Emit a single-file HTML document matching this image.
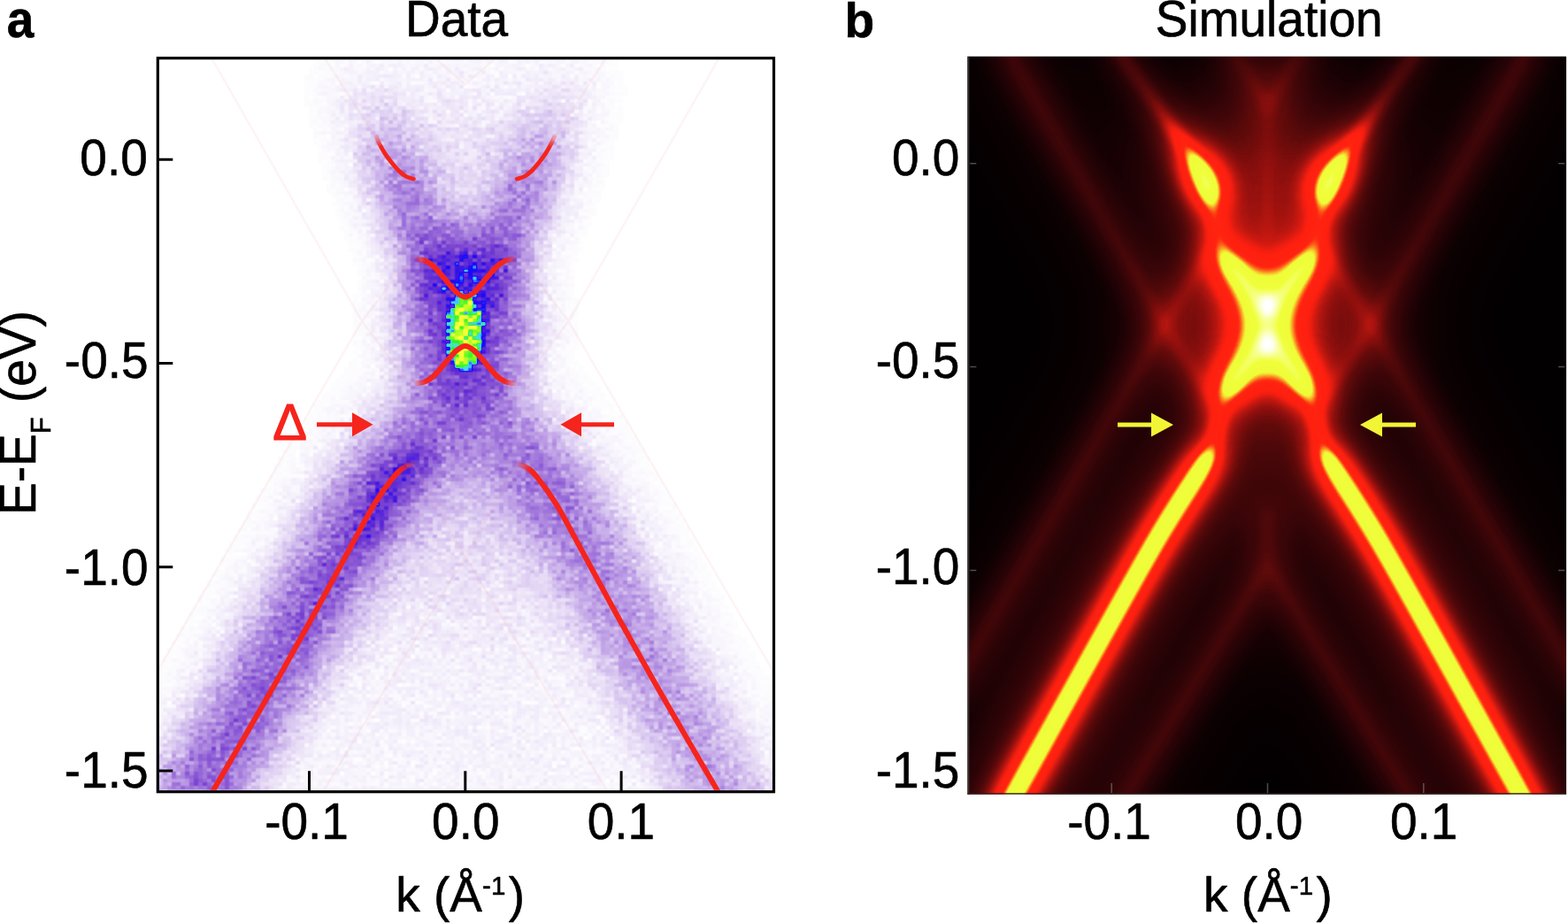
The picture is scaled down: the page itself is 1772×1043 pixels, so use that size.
<!DOCTYPE html>
<html lang="en">
<head>
<meta charset="utf-8">
<title>Data and Simulation</title>
<style>
html,body{margin:0;padding:0;background:#fff;width:1772px;height:1043px;overflow:hidden}
svg{display:block;position:absolute;left:0;top:0}
text{font-family:"Liberation Sans", sans-serif;fill:#000}
</style>
</head>
<body>
<svg width="1772" height="1043" viewBox="0 0 1772 1043">
<defs>
<clipPath id="clipA"><rect x="179.5" y="67.2" width="693.5" height="825.6"/></clipPath>
<filter id="ab5" filterUnits="userSpaceOnUse" x="0" y="-100" width="1000" height="1200" color-interpolation-filters="sRGB"><feGaussianBlur stdDeviation="30"/></filter>
<filter id="ab0" filterUnits="userSpaceOnUse" x="0" y="-100" width="1000" height="1200" color-interpolation-filters="sRGB"><feGaussianBlur stdDeviation="5"/></filter>
<filter id="ab1" filterUnits="userSpaceOnUse" x="0" y="-100" width="1000" height="1200" color-interpolation-filters="sRGB"><feGaussianBlur stdDeviation="7"/></filter>
<filter id="ab2" filterUnits="userSpaceOnUse" x="0" y="-100" width="1000" height="1200" color-interpolation-filters="sRGB"><feGaussianBlur stdDeviation="14"/></filter>
<filter id="ab3" filterUnits="userSpaceOnUse" x="0" y="-100" width="1000" height="1200" color-interpolation-filters="sRGB"><feGaussianBlur stdDeviation="24"/></filter>
<filter id="ab4" filterUnits="userSpaceOnUse" x="0" y="-100" width="1000" height="1200" color-interpolation-filters="sRGB"><feGaussianBlur stdDeviation="40"/></filter>
<filter id="acm" filterUnits="userSpaceOnUse" x="175" y="64" width="705" height="832" color-interpolation-filters="sRGB">
<feTurbulence type="fractalNoise" baseFrequency="0.9" numOctaves="2" seed="7" result="t"/>
<feColorMatrix in="t" type="matrix" values="1.6 0 0 0 -0.3  1.6 0 0 0 -0.3  1.6 0 0 0 -0.3  0 0 0 0 1" result="n"/>
<feComponentTransfer in="SourceGraphic" result="sq"><feFuncR type="gamma" exponent="0.5"/><feFuncG type="gamma" exponent="0.5"/><feFuncB type="gamma" exponent="0.5"/></feComponentTransfer>
<feComposite in="sq" in2="n" operator="arithmetic" k1="0.46" k2="0" k3="0" k4="0" result="nb"/>
<feComposite in="SourceGraphic" in2="sq" operator="arithmetic" k1="0" k2="1" k3="-0.230" k4="0" result="nc"/>
<feComposite in="nb" in2="nc" operator="arithmetic" k1="0" k2="1" k3="1" k4="0" result="sn"/>
<feFlood x="176" y="65" width="1" height="1" flood-color="#000" result="dot"/>
<feComposite in="dot" in2="dot" operator="over" x="175" y="64" width="5" height="4" result="cell"/>
<feTile in="cell" result="grid"/>
<feComposite in="sn" in2="grid" operator="in" result="samp"/>
<feMorphology in="samp" operator="dilate" radius="2 1" result="d1"/>
<feOffset in="d1" dx="0" dy="1" result="d2"/>
<feBlend in="d1" in2="d2" mode="lighten" result="pix"/>
<feConvolveMatrix in="pix" order="3" kernelMatrix="1 2 1 2 4 2 1 2 1" divisor="16" edgeMode="duplicate" preserveAlpha="true" result="soft"/>
<feComponentTransfer in="soft">
<feFuncR type="table" tableValues="1.000 0.986 0.973 0.954 0.936 0.918 0.897 0.876 0.856 0.835 0.814 0.792 0.771 0.749 0.725 0.700 0.675 0.651 0.627 0.604 0.580 0.557 0.535 0.514 0.492 0.471 0.441 0.412 0.383 0.344 0.294 0.244 0.191 0.135 0.078 0.136 0.204 0.282 0.261 0.230 0.188 0.335 0.481 0.627 0.753 0.878 0.948 0.961 0.974 0.987 1.000"/>
<feFuncG type="table" tableValues="1.000 0.980 0.961 0.933 0.906 0.878 0.849 0.820 0.790 0.761 0.727 0.694 0.661 0.627 0.594 0.561 0.527 0.494 0.462 0.429 0.397 0.365 0.338 0.312 0.285 0.259 0.234 0.210 0.185 0.157 0.125 0.094 0.069 0.050 0.031 0.261 0.512 0.784 0.889 0.941 0.941 0.961 0.980 1.000 1.000 1.000 1.000 1.000 1.000 1.000 1.000"/>
<feFuncB type="table" tableValues="1.000 0.996 0.992 0.984 0.976 0.969 0.961 0.953 0.945 0.937 0.928 0.920 0.911 0.902 0.893 0.884 0.875 0.867 0.860 0.853 0.846 0.839 0.835 0.831 0.827 0.824 0.828 0.832 0.837 0.851 0.875 0.898 0.925 0.957 0.988 0.996 1.000 1.000 0.835 0.565 0.188 0.167 0.146 0.125 0.151 0.176 0.195 0.209 0.223 0.237 0.251"/>
<feFuncA type="linear" slope="0" intercept="1"/>
</feComponentTransfer>
</filter>
<filter id="bb0" filterUnits="userSpaceOnUse" x="900" y="-120" width="1060" height="1220" color-interpolation-filters="sRGB"><feGaussianBlur stdDeviation="6"/></filter>
<linearGradient id="bg0" gradientUnits="userSpaceOnUse" x1="0" y1="40" x2="0" y2="950"><stop offset="0.0000" stop-color="#fff" stop-opacity="0.084"/><stop offset="0.0659" stop-color="#fff" stop-opacity="0.095"/><stop offset="0.1044" stop-color="#fff" stop-opacity="0.140"/><stop offset="0.1231" stop-color="#fff" stop-opacity="0.213"/><stop offset="0.1429" stop-color="#fff" stop-opacity="0.291"/><stop offset="0.1604" stop-color="#fff" stop-opacity="0.549"/><stop offset="0.1791" stop-color="#fff" stop-opacity="0.728"/><stop offset="0.1912" stop-color="#fff" stop-opacity="0.739"/><stop offset="0.2011" stop-color="#fff" stop-opacity="0.515"/><stop offset="0.2110" stop-color="#fff" stop-opacity="0.258"/><stop offset="0.2440" stop-color="#fff" stop-opacity="0.213"/><stop offset="0.2637" stop-color="#fff" stop-opacity="0.202"/><stop offset="0.2780" stop-color="#fff" stop-opacity="0.420"/><stop offset="0.2890" stop-color="#fff" stop-opacity="0.672"/><stop offset="0.3077" stop-color="#fff" stop-opacity="0.616"/><stop offset="0.3264" stop-color="#fff" stop-opacity="0.476"/><stop offset="0.3593" stop-color="#fff" stop-opacity="0.392"/><stop offset="0.3923" stop-color="#fff" stop-opacity="0.476"/><stop offset="0.4110" stop-color="#fff" stop-opacity="0.616"/><stop offset="0.4297" stop-color="#fff" stop-opacity="0.672"/><stop offset="0.4407" stop-color="#fff" stop-opacity="0.420"/><stop offset="0.4549" stop-color="#fff" stop-opacity="0.202"/><stop offset="0.4747" stop-color="#fff" stop-opacity="0.202"/><stop offset="0.5011" stop-color="#fff" stop-opacity="0.213"/><stop offset="0.5143" stop-color="#fff" stop-opacity="0.308"/><stop offset="0.5253" stop-color="#fff" stop-opacity="0.560"/><stop offset="0.5385" stop-color="#fff" stop-opacity="0.560"/><stop offset="1.0000" stop-color="#fff" stop-opacity="0.560"/></linearGradient>
<filter id="bb1" filterUnits="userSpaceOnUse" x="900" y="-120" width="1060" height="1220" color-interpolation-filters="sRGB"><feGaussianBlur stdDeviation="16"/></filter>
<linearGradient id="bg1" gradientUnits="userSpaceOnUse" x1="0" y1="40" x2="0" y2="950"><stop offset="0.0000" stop-color="#fff" stop-opacity="0.088"/><stop offset="0.0659" stop-color="#fff" stop-opacity="0.100"/><stop offset="0.1044" stop-color="#fff" stop-opacity="0.147"/><stop offset="0.1231" stop-color="#fff" stop-opacity="0.224"/><stop offset="0.1429" stop-color="#fff" stop-opacity="0.307"/><stop offset="0.1604" stop-color="#fff" stop-opacity="0.578"/><stop offset="0.1791" stop-color="#fff" stop-opacity="0.767"/><stop offset="0.1912" stop-color="#fff" stop-opacity="0.779"/><stop offset="0.2011" stop-color="#fff" stop-opacity="0.543"/><stop offset="0.2110" stop-color="#fff" stop-opacity="0.271"/><stop offset="0.2440" stop-color="#fff" stop-opacity="0.224"/><stop offset="0.2637" stop-color="#fff" stop-opacity="0.212"/><stop offset="0.2780" stop-color="#fff" stop-opacity="0.443"/><stop offset="0.2890" stop-color="#fff" stop-opacity="0.708"/><stop offset="0.3077" stop-color="#fff" stop-opacity="0.649"/><stop offset="0.3264" stop-color="#fff" stop-opacity="0.501"/><stop offset="0.3593" stop-color="#fff" stop-opacity="0.413"/><stop offset="0.3923" stop-color="#fff" stop-opacity="0.501"/><stop offset="0.4110" stop-color="#fff" stop-opacity="0.649"/><stop offset="0.4297" stop-color="#fff" stop-opacity="0.708"/><stop offset="0.4407" stop-color="#fff" stop-opacity="0.443"/><stop offset="0.4549" stop-color="#fff" stop-opacity="0.212"/><stop offset="0.4747" stop-color="#fff" stop-opacity="0.212"/><stop offset="0.5011" stop-color="#fff" stop-opacity="0.224"/><stop offset="0.5143" stop-color="#fff" stop-opacity="0.325"/><stop offset="0.5253" stop-color="#fff" stop-opacity="0.590"/><stop offset="0.5385" stop-color="#fff" stop-opacity="0.590"/><stop offset="1.0000" stop-color="#fff" stop-opacity="0.590"/></linearGradient>
<filter id="bb2" filterUnits="userSpaceOnUse" x="900" y="-120" width="1060" height="1220" color-interpolation-filters="sRGB"><feGaussianBlur stdDeviation="42"/></filter>
<linearGradient id="bg2" gradientUnits="userSpaceOnUse" x1="0" y1="40" x2="0" y2="950"><stop offset="0.0000" stop-color="#fff" stop-opacity="0.041"/><stop offset="0.0659" stop-color="#fff" stop-opacity="0.046"/><stop offset="0.1044" stop-color="#fff" stop-opacity="0.068"/><stop offset="0.1231" stop-color="#fff" stop-opacity="0.103"/><stop offset="0.1429" stop-color="#fff" stop-opacity="0.140"/><stop offset="0.1604" stop-color="#fff" stop-opacity="0.265"/><stop offset="0.1791" stop-color="#fff" stop-opacity="0.351"/><stop offset="0.1912" stop-color="#fff" stop-opacity="0.356"/><stop offset="0.2011" stop-color="#fff" stop-opacity="0.248"/><stop offset="0.2110" stop-color="#fff" stop-opacity="0.124"/><stop offset="0.2440" stop-color="#fff" stop-opacity="0.103"/><stop offset="0.2637" stop-color="#fff" stop-opacity="0.097"/><stop offset="0.2780" stop-color="#fff" stop-opacity="0.203"/><stop offset="0.2890" stop-color="#fff" stop-opacity="0.324"/><stop offset="0.3077" stop-color="#fff" stop-opacity="0.297"/><stop offset="0.3264" stop-color="#fff" stop-opacity="0.230"/><stop offset="0.3593" stop-color="#fff" stop-opacity="0.189"/><stop offset="0.3923" stop-color="#fff" stop-opacity="0.230"/><stop offset="0.4110" stop-color="#fff" stop-opacity="0.297"/><stop offset="0.4297" stop-color="#fff" stop-opacity="0.324"/><stop offset="0.4407" stop-color="#fff" stop-opacity="0.203"/><stop offset="0.4549" stop-color="#fff" stop-opacity="0.097"/><stop offset="0.4747" stop-color="#fff" stop-opacity="0.097"/><stop offset="0.5011" stop-color="#fff" stop-opacity="0.103"/><stop offset="0.5143" stop-color="#fff" stop-opacity="0.149"/><stop offset="0.5253" stop-color="#fff" stop-opacity="0.270"/><stop offset="0.5385" stop-color="#fff" stop-opacity="0.270"/><stop offset="1.0000" stop-color="#fff" stop-opacity="0.270"/></linearGradient>
<filter id="hot" filterUnits="userSpaceOnUse" x="900" y="-120" width="1060" height="1220" color-interpolation-filters="sRGB">
<feComponentTransfer>
<feFuncR type="table" tableValues="0.012 0.033 0.063 0.102 0.137 0.173 0.210 0.248 0.292 0.342 0.392 0.461 0.530 0.605 0.687 0.769 0.855 0.941 0.980 1.000 1.000 1.000 1.000 1.000 1.000 0.996 0.988 0.979 0.970 0.957 0.941 0.941 0.941 0.941 0.941 0.941 0.941 0.941 0.941 0.941 0.947 0.954 0.960 0.966 0.973 0.979 0.986 0.993 1.000 1.000 1.000"/>
<feFuncG type="table" tableValues="0.000 0.003 0.005 0.008 0.012 0.016 0.020 0.025 0.031 0.037 0.043 0.051 0.059 0.069 0.082 0.094 0.106 0.118 0.123 0.127 0.129 0.132 0.135 0.137 0.140 0.216 0.365 0.529 0.710 0.863 0.988 0.990 0.991 0.992 0.993 0.995 0.996 0.997 0.999 1.000 1.000 1.000 1.000 1.000 1.000 1.000 1.000 1.000 1.000 1.000 1.000"/>
<feFuncB type="table" tableValues="0.004 0.007 0.010 0.016 0.022 0.027 0.031 0.034 0.037 0.040 0.043 0.048 0.053 0.056 0.060 0.063 0.063 0.063 0.063 0.063 0.063 0.063 0.063 0.063 0.063 0.075 0.098 0.125 0.157 0.188 0.220 0.221 0.223 0.225 0.227 0.228 0.230 0.232 0.234 0.235 0.309 0.383 0.456 0.530 0.604 0.703 0.802 0.901 1.000 1.000 1.000"/>
</feComponentTransfer>
</filter>
<clipPath id="clipB"><rect x="1093.3" y="63.8" width="676.8" height="833.8"/></clipPath>
<path id="bup" d="M1262,55C1263.4,57 1264.2,58.3 1270.5,67.3C1276.8,76.3 1291.8,97.2 1300,109C1308.2,120.8 1314.7,130.3 1320,138C1325.3,145.7 1328.2,149.7 1332,155C1335.8,160.3 1339.7,165 1343,170C1346.3,175 1349,179.8 1352,185C1355,190.2 1358.5,195.5 1361,201C1363.5,206.5 1365.5,212.5 1367,218C1368.5,223.5 1368.8,228.7 1370,234C1371.2,239.3 1372.8,244.8 1374,250C1375.2,255.2 1375.8,260 1377,265C1378.2,270 1379.3,275.3 1381,280C1382.7,284.7 1384.2,288.3 1387,293C1389.8,297.7 1393.8,302.2 1398,308C1402.2,313.8 1407.7,321.5 1412,328C1416.3,334.5 1420.6,341.8 1424,347C1427.4,352.2 1429.7,359 1432.5,359C1435.3,359 1437.6,352.2 1441,347C1444.4,341.8 1448.7,334.5 1453,328C1457.3,321.5 1462.8,313.8 1467,308C1471.2,302.2 1475.2,297.7 1478,293C1480.8,288.3 1482.3,284.7 1484,280C1485.7,275.3 1486.8,270 1488,265C1489.2,260 1489.8,255.2 1491,250C1492.2,244.8 1493.8,239.3 1495,234C1496.2,228.7 1496.5,223.5 1498,218C1499.5,212.5 1501.5,206.5 1504,201C1506.5,195.5 1510,190.2 1513,185C1516,179.8 1518.7,175 1522,170C1525.3,165 1529.2,160.3 1533,155C1536.8,149.7 1539.7,145.7 1545,138C1550.3,130.3 1556.8,120.8 1565,109C1573.2,97.2 1588.2,76.3 1594.5,67.3C1600.8,58.3 1601.6,57 1603,55"/>
<path id="blo" d="M1131,926C1133.7,921.2 1129.1,929.3 1147,897C1164.9,864.7 1216.6,771.3 1238.4,732C1260.2,692.7 1266.6,681.3 1278,661C1289.4,640.7 1298.1,625.2 1307,610C1315.9,594.8 1324.3,581.5 1331.5,570C1338.7,558.5 1345,549 1350,541C1355,533 1358.3,527.7 1361.5,522C1364.7,516.3 1366.8,512.7 1369,507C1371.2,501.3 1372.8,494.5 1374.5,488C1376.2,481.5 1377.2,474.5 1379,468C1380.8,461.5 1381.8,456 1385,449C1388.2,442 1393.5,433.2 1398,426C1402.5,418.8 1407.7,412.3 1412,406C1416.3,399.7 1420.6,393 1424,388C1427.4,383 1429.7,376 1432.5,376C1435.3,376 1437.6,383 1441,388C1444.4,393 1448.7,399.7 1453,406C1457.3,412.3 1462.5,418.8 1467,426C1471.5,433.2 1476.8,442 1480,449C1483.2,456 1484.2,461.5 1486,468C1487.8,474.5 1488.8,481.5 1490.5,488C1492.2,494.5 1493.8,501.3 1496,507C1498.2,512.7 1500.3,516.3 1503.5,522C1506.7,527.7 1510,533 1515,541C1520,549 1526.3,558.5 1533.5,570C1540.7,581.5 1549.1,594.8 1558,610C1566.9,625.2 1575.6,640.7 1587,661C1598.4,681.3 1604.8,692.7 1626.6,732C1648.4,771.3 1700.1,864.7 1718,897C1735.9,929.3 1731.3,921.2 1734,926"/>
<path id="br0" d="M1137,55L1144.3,67.3L1315.7,367L1350,420L1372,452"/>
<path id="br1" d="M1728,55L1720.7,67.3L1549.3,367L1515,420L1493,452"/>
<path id="br2" d="M1075,780L1315.7,367L1350,312L1372,280"/>
<path id="br3" d="M1790,780L1549.3,367L1515,312L1493,280"/>
<path id="br4" d="M1257,925L1274,897L1432.5,637L1591,897L1608,925"/>
<path id="br5" d="M1432.5,580V625"/>
<path id="br6" d="M1392,55L1432.5,120L1473,55"/>
<path id="br7" d="M1432.5,125V265"/>
<path id="br8" d="M1432.5,338V350M1432.5,384V396"/>
</defs>
<rect x="0" y="0" width="1772" height="1043" fill="#fff"/>
<g clip-path="url(#clipA)">
<g filter="url(#acm)">
<rect x="100" y="0" width="860" height="1000" fill="#000"/>
<defs>
<linearGradient id="agu" gradientUnits="userSpaceOnUse" x1="0" y1="70" x2="0" y2="330"><stop offset="0" stop-color="#fff" stop-opacity="0.02"/><stop offset="0.22" stop-color="#fff" stop-opacity="0.13"/><stop offset="0.5" stop-color="#fff" stop-opacity="0.38"/><stop offset="1" stop-color="#fff" stop-opacity="0.42"/></linearGradient>
<linearGradient id="agh" gradientUnits="userSpaceOnUse" x1="0" y1="70" x2="0" y2="330"><stop offset="0" stop-color="#fff" stop-opacity="0.02"/><stop offset="0.3" stop-color="#fff" stop-opacity="0.10"/><stop offset="1" stop-color="#fff" stop-opacity="0.20"/></linearGradient>
<linearGradient id="agl" gradientUnits="userSpaceOnUse" x1="0" y1="440" x2="0" y2="900"><stop offset="0" stop-color="#fff" stop-opacity="0.24"/><stop offset="0.3" stop-color="#fff" stop-opacity="0.15"/><stop offset="0.65" stop-color="#fff" stop-opacity="0.05"/><stop offset="1" stop-color="#fff" stop-opacity="0.03"/></linearGradient>
<linearGradient id="aga" gradientUnits="userSpaceOnUse" x1="0" y1="400" x2="0" y2="900"><stop offset="0" stop-color="#fff" stop-opacity="0.08"/><stop offset="0.14" stop-color="#fff" stop-opacity="0.22"/><stop offset="0.25" stop-color="#fff" stop-opacity="0.50"/><stop offset="0.6" stop-color="#fff" stop-opacity="0.45"/><stop offset="1" stop-color="#fff" stop-opacity="0.47"/></linearGradient>
<linearGradient id="agb" gradientUnits="userSpaceOnUse" x1="0" y1="400" x2="0" y2="900"><stop offset="0" stop-color="#fff" stop-opacity="0.08"/><stop offset="0.14" stop-color="#fff" stop-opacity="0.20"/><stop offset="0.25" stop-color="#fff" stop-opacity="0.42"/><stop offset="0.5" stop-color="#fff" stop-opacity="0.34"/><stop offset="1" stop-color="#fff" stop-opacity="0.28"/></linearGradient>
</defs>
<g filter="url(#ab5)">
<path d="M518,410C514.7,415.8 506.7,430.8 498,445C489.3,459.2 477,478.3 466,495C455,511.7 442.5,528.8 432,545C421.5,561.2 413,575.3 403,592C393,608.7 383.7,624.8 372,645C360.3,665.2 346,690.3 333,713C320,735.7 307.2,758.7 294,781C280.8,803.3 269.2,821.3 254,847C238.8,872.7 211.5,920.3 203,935" fill="none" stroke-linecap="round" stroke-linejoin="round" stroke="url(#aga)" stroke-width="84"/>
<path d="M533.6,410C536.9,415.8 544.9,430.8 553.6,445C562.3,459.2 574.8,478.3 585.6,495C596.4,511.7 608.3,528.8 618.6,545C628.9,561.2 637.8,575.3 647.6,592C657.4,608.7 666.5,624.8 677.6,645C688.7,665.2 701.8,690.3 714,713C726.2,735.7 738.6,758.7 751,781C763.4,803.3 774.2,821.3 788.6,847C803,872.7 829.4,920.3 837.6,935" fill="none" stroke-linecap="round" stroke-linejoin="round" stroke="url(#agb)" stroke-width="84"/>
</g>
<g filter="url(#ab3)">
<ellipse cx="525.8" cy="486" rx="100" ry="40" fill="#fff" fill-opacity="0.07"/>
<ellipse cx="525.8" cy="296" rx="56" ry="26" fill="#fff" fill-opacity="0.13"/>
<path d="M505,330C502.2,323.3 493.8,303.3 488,290C482.2,276.7 476,264.2 470,250C464,235.8 458.3,221.7 452,205C445.7,188.3 439,169.2 432,150C425,130.8 413.7,100 410,90" fill="none" stroke-linecap="round" stroke-linejoin="round" stroke="url(#agu)" stroke-width="54"/>
<path d="M546.6,330C549.4,323.3 557.8,303.3 563.6,290C569.4,276.7 575.6,264.2 581.6,250C587.6,235.8 593.3,221.7 599.6,205C605.9,188.3 612.6,169.2 619.6,150C626.6,130.8 637.9,100 641.6,90" fill="none" stroke-linecap="round" stroke-linejoin="round" stroke="url(#agu)" stroke-width="54"/>
<ellipse cx="525.8" cy="366" rx="76" ry="98" fill="#fff" fill-opacity="0.36"/>
</g>
<g filter="url(#ab4)" stroke="none">
<path d="M525.8,420L300,930H752Z" fill="url(#agl)"/>
<path d="M525.8,350L420,60H632Z" fill="url(#agh)"/>
</g>
<g filter="url(#ab2)">
<path d="M476,514C472.5,517.5 462,527 455,535C448,543 440.5,551.8 434,562C427.5,572.2 419,590.3 416,596" fill="none" stroke-linecap="round" stroke-linejoin="round" stroke="#fff" stroke-width="28" stroke-opacity="0.36"/>
<path d="M416,596C412.5,601.7 402.3,618 395,630C387.7,642 381.2,652.2 372,668C362.8,683.8 345.3,715.5 340,725" fill="none" stroke-linecap="round" stroke-linejoin="round" stroke="#fff" stroke-width="24" stroke-opacity="0.15"/>
<ellipse cx="525.8" cy="377" rx="27" ry="48" fill="#fff" fill-opacity="0.22"/>
</g>
<g filter="url(#ab0)">
<ellipse cx="525.8" cy="377" rx="20.5" ry="43" fill="#fff" fill-opacity="0.71"/>
</g>
</g>
<g id="aov">
<path d="M233,55L409,363L452,420L467,432M818.6,55L642.6,363L599.6,420L584.6,432M170,772L409,363L452,307L467,294M881.6,772L642.6,363L599.6,307L584.6,294M467,525L525.8,629L690,900M584.6,525L525.8,629L361.6,900M360,55L424.6,155.1M691.6,55L627,155.1M494,68L526.7,96M557.6,68L524.9,96" fill="none" stroke="#f0a8b4" stroke-opacity="0.13" stroke-width="2.6"/>
<defs>
<linearGradient id="rfl" gradientUnits="userSpaceOnUse" x1="423" y1="151" x2="431" y2="166"><stop offset="0" stop-color="#f5241c" stop-opacity="0"/><stop offset="1" stop-color="#f5241c"/></linearGradient>
<linearGradient id="rfr" gradientUnits="userSpaceOnUse" x1="628.5999999999999" y1="151" x2="620.5999999999999" y2="166"><stop offset="0" stop-color="#f5241c" stop-opacity="0"/><stop offset="1" stop-color="#f5241c"/></linearGradient>
<linearGradient id="rv" gradientUnits="userSpaceOnUse" x1="468" y1="0" x2="583.6" y2="0"><stop offset="0" stop-color="#f5241c" stop-opacity="0.1"/><stop offset="0.12" stop-color="#f5241c"/><stop offset="0.88" stop-color="#f5241c"/><stop offset="1" stop-color="#f5241c" stop-opacity="0.1"/></linearGradient>
<linearGradient id="ral" gradientUnits="userSpaceOnUse" x1="468.0" y1="0" x2="452.0" y2="0"><stop offset="0" stop-color="#f5241c" stop-opacity="0.1"/><stop offset="1" stop-color="#f5241c"/></linearGradient>
<linearGradient id="rar" gradientUnits="userSpaceOnUse" x1="583.6" y1="0" x2="599.6" y2="0"><stop offset="0" stop-color="#f5241c" stop-opacity="0.1"/><stop offset="1" stop-color="#f5241c"/></linearGradient>
</defs>
<path d="M424.6,153C425.3,154.7 427.2,159.5 429,163C430.8,166.5 433.1,170.6 435.3,173.9C437.5,177.2 439.5,179.9 442,183C444.5,186.1 447.6,189.9 450.4,192.7C453.2,195.4 456.2,197.9 459,199.5C461.8,201.1 466,201.8 467.4,202.2" fill="none" stroke="url(#rfl)" stroke-width="4.8" stroke-linecap="round"/>
<path d="M627,153C626.3,154.7 624.4,159.5 622.6,163C620.8,166.5 618.5,170.6 616.3,173.9C614.1,177.2 612.1,179.9 609.6,183C607.1,186.1 604,189.9 601.2,192.7C598.4,195.4 595.4,197.9 592.6,199.5C589.8,201.1 585.6,201.8 584.2,202.2" fill="none" stroke="url(#rfr)" stroke-width="4.8" stroke-linecap="round"/>
<path d="M471,293C472.5,293.2 476.8,293.2 480,294.5C483.2,295.8 485.8,297.1 490,301C494.2,304.9 500.7,313.1 505,318C509.3,322.9 512.5,327.6 516,330.5C519.5,333.4 522.5,335.6 525.8,335.6C529.1,335.6 532.1,333.4 535.6,330.5C539.1,327.6 542.3,322.9 546.6,318C550.9,313.1 557.4,304.9 561.6,301C565.8,297.1 568.4,295.8 571.6,294.5C574.8,293.2 579.1,293.2 580.6,293" fill="none" stroke="url(#rv)" stroke-width="6.1" stroke-linecap="round" stroke-linejoin="round"/>
<path d="M471,433C472.5,432.8 476.8,432.8 480,431.5C483.2,430.2 485.8,428.9 490,425C494.2,421.1 500.7,412.8 505,408C509.3,403.2 512.5,398.8 516,396C519.5,393.2 522.5,391 525.8,391C529.1,391 532.1,393.2 535.6,396C539.1,398.8 542.3,403.2 546.6,408C550.9,412.8 557.4,421.1 561.6,425C565.8,428.9 568.4,430.2 571.6,431.5C574.8,432.8 579.1,432.8 580.6,433" fill="none" stroke="url(#rv)" stroke-width="6.1" stroke-linecap="round" stroke-linejoin="round"/>
<path d="M466,524.6C464.5,525.2 460.4,525.7 457,528C453.6,530.3 451.1,531.1 445.3,538.3C439.5,545.4 431.2,556.2 422.3,570.9C413.4,585.6 403.2,605.5 391.7,626.5C380.2,647.5 366.1,673.8 353.3,697C340.5,720.2 327.8,743 315,765.5C302.2,788 288.8,811.1 276.7,832C264.6,852.9 249,879.5 242.2,891C235.4,902.5 237,899.3 236,901" fill="none" stroke="url(#ral)" stroke-width="6.1" stroke-linecap="round" stroke-linejoin="round"/>
<path d="M585.6,524.6C587.1,525.2 591.1,525.7 594.6,528C598,530.3 600.5,531.1 606.3,538.3C612.1,545.4 620.4,556.2 629.3,570.9C638.2,585.6 648.4,605.5 659.9,626.5C671.4,647.5 685.5,673.8 698.3,697C711.1,720.2 723.8,743 736.6,765.5C749.4,788 762.8,811.1 774.9,832C787,852.9 802.6,879.5 809.4,891C816.2,902.5 814.6,899.3 815.6,901" fill="none" stroke="url(#rar)" stroke-width="6.1" stroke-linecap="round" stroke-linejoin="round"/>
</g>
</g>
<g id="aan">
<g fill="#f5241c" stroke="none">
<path d="M358,477.2h40v-11l23.5,13.5l-23.5,13.5v-11h-40z"/>
<path d="M694,477.2h-37v-11l-23.5,13.5l23.5,13.5v-11h37z"/>
</g>
<text transform="translate(327.5,497.4) scale(1.05,1.03)" font-size="55" text-anchor="middle" style="fill:#f5241c" stroke="#f5241c" stroke-width="1.2">Δ</text>
</g>
<g clip-path="url(#clipB)">
<g filter="url(#hot)">
<rect x="900" y="-120" width="1060" height="1220" fill="#000"/>
<g filter="url(#bb0)" fill="none" stroke="#fff" stroke-width="14" stroke-linecap="round" stroke-linejoin="round">
<use href="#br0" stroke-opacity="0.038"/>
<use href="#br1" stroke-opacity="0.038"/>
<use href="#br2" stroke-opacity="0.038"/>
<use href="#br3" stroke-opacity="0.038"/>
<use href="#br4" stroke-opacity="0.038"/>
<use href="#br5" stroke-opacity="0.030"/>
<use href="#br6" stroke-opacity="0.035"/>
<use href="#br7" stroke-opacity="0.018"/>
<use href="#br8" stroke-opacity="0.896"/>
<use href="#bup" stroke="url(#bg0)"/>
<use href="#blo" stroke="url(#bg0)"/>
</g>
<g filter="url(#bb1)" fill="none" stroke="#fff" stroke-width="32" stroke-linecap="round" stroke-linejoin="round">
<use href="#br0" stroke-opacity="0.106"/>
<use href="#br1" stroke-opacity="0.106"/>
<use href="#br2" stroke-opacity="0.106"/>
<use href="#br3" stroke-opacity="0.106"/>
<use href="#br4" stroke-opacity="0.106"/>
<use href="#br5" stroke-opacity="0.085"/>
<use href="#br6" stroke-opacity="0.099"/>
<use href="#br7" stroke-opacity="0.050"/>
<use href="#br8" stroke-opacity="0.944"/>
<use href="#bup" stroke="url(#bg1)"/>
<use href="#blo" stroke="url(#bg1)"/>
</g>
<g filter="url(#bb2)" fill="none" stroke="#fff" stroke-width="80" stroke-linecap="round" stroke-linejoin="round">
<use href="#br0" stroke-opacity="0.061"/>
<use href="#br1" stroke-opacity="0.061"/>
<use href="#br2" stroke-opacity="0.061"/>
<use href="#br3" stroke-opacity="0.061"/>
<use href="#br4" stroke-opacity="0.061"/>
<use href="#br5" stroke-opacity="0.049"/>
<use href="#br6" stroke-opacity="0.057"/>
<use href="#br7" stroke-opacity="0.028"/>
<use href="#br8" stroke-opacity="0.432"/>
<ellipse cx="1432.5" cy="185" rx="85" ry="95" fill="#fff" fill-opacity="0.13" stroke="none"/>
<ellipse cx="1432.5" cy="520" rx="60" ry="60" fill="#fff" fill-opacity="0.08" stroke="none"/>
<use href="#bup" stroke="url(#bg2)"/>
<use href="#blo" stroke="url(#bg2)"/>
</g>
</g>
</g>
<g fill="#f2f535" stroke="none">
<path d="M1263,477.4h38v-11l25,13.6l-25,13.6v-11h-38z"/>
<path d="M1600,477.4h-38v-11l-25,13.6l25,13.6v-11h38z"/>
</g>
<rect x="178.3" y="65.7" width="696.2" height="829.0" fill="none" stroke="#000" stroke-width="3.2"/>
<path d="M178.3,180.3h17M178.3,410.6h17M178.3,640.8h17M178.3,871.0h17M349.5,894.7v-23.5M525.8,894.7v-23.5M702.1,894.7v-23.5" fill="none" stroke="#000" stroke-width="3"/>
<path d="M1096.3,184.8h7M1768.1,184.8h-7M1096.3,414.6h7M1768.1,414.6h-7M1096.3,644.4h7M1768.1,644.4h-7M1256.2,896.1v-11M1432.5,896.1v-11M1608.8,896.1v-11" fill="none" stroke="#9a9a9a" stroke-opacity="0.5" stroke-width="1.5"/>
<path d="M1094.5,63.8V897.6" fill="none" stroke="#444" stroke-opacity="0.7" stroke-width="1.8"/>
<path d="M1093.3,896.8000000000001H1770.1" fill="none" stroke="#2a1a1a" stroke-opacity="0.8" stroke-width="1.8"/>
<g stroke="#000" stroke-width="0.6" stroke-linejoin="round">
<text transform="translate(7.8,42.3) scale(1,1.09)" font-size="55" text-anchor="start" font-weight="bold">a</text>
<text transform="translate(954.4,42.3) scale(1,1.01)" font-size="55" text-anchor="start" font-weight="bold">b</text>
<text transform="translate(516.0,41.4) scale(1,1.055)" font-size="55" text-anchor="middle">Data</text>
<text transform="translate(1434.2,41.4) scale(1,1.03)" font-size="55" text-anchor="middle">Simulation</text>
<text transform="translate(166.8,198.1) scale(1,1.055)" font-size="55" text-anchor="end">0.0</text>
<text transform="translate(1084.4,198.0) scale(1,1.055)" font-size="55" text-anchor="end">0.0</text>
<text transform="translate(167.6,427.2) scale(1,1.055)" font-size="55" text-anchor="end">-0.5</text>
<text transform="translate(1084.4,427.0) scale(1,1.055)" font-size="55" text-anchor="end">-0.5</text>
<text transform="translate(167.6,660.6) scale(1,1.055)" font-size="55" text-anchor="end">-1.0</text>
<text transform="translate(1084.4,660.1) scale(1,1.055)" font-size="55" text-anchor="end">-1.0</text>
<text transform="translate(167.6,889.6) scale(1,1.055)" font-size="55" text-anchor="end">-1.5</text>
<text transform="translate(1084.4,889.6) scale(1,1.055)" font-size="55" text-anchor="end">-1.5</text>
<text transform="translate(346.5,947.6) scale(1,1.055)" font-size="55" text-anchor="middle">-0.1</text>
<text transform="translate(1253.5,947.6) scale(1,1.055)" font-size="55" text-anchor="middle">-0.1</text>
<text transform="translate(526.3,947.6) scale(1,1.055)" font-size="55" text-anchor="middle">0.0</text>
<text transform="translate(1434.2,947.6) scale(1,1.055)" font-size="55" text-anchor="middle">0.0</text>
<text transform="translate(701.9,947.6) scale(1,1.055)" font-size="55" text-anchor="middle">0.1</text>
<text transform="translate(1609.1,947.6) scale(1,1.055)" font-size="55" text-anchor="middle">0.1</text>
<text transform="translate(520.2,1029.6)" font-size="55" text-anchor="middle">k (Å<tspan font-size="29.5" dy="-18.5">-1</tspan><tspan dy="18.5" dx="3.5">)</tspan></text>
<text transform="translate(1433.0,1029.6)" font-size="55" text-anchor="middle">k (Å<tspan font-size="29.5" dy="-18.5">-1</tspan><tspan dy="18.5" dx="3.5">)</tspan></text>
<text transform="translate(39.6,582.0) rotate(-90) scale(1,1.04)" font-size="55" text-anchor="start">E-E<tspan font-size="31" dy="17">F</tspan></text>
<text transform="translate(39.6,455.0) rotate(-90) scale(1,1.045)" font-size="55" text-anchor="start">(eV)</text>
</g>
</svg>
</body>
</html>
